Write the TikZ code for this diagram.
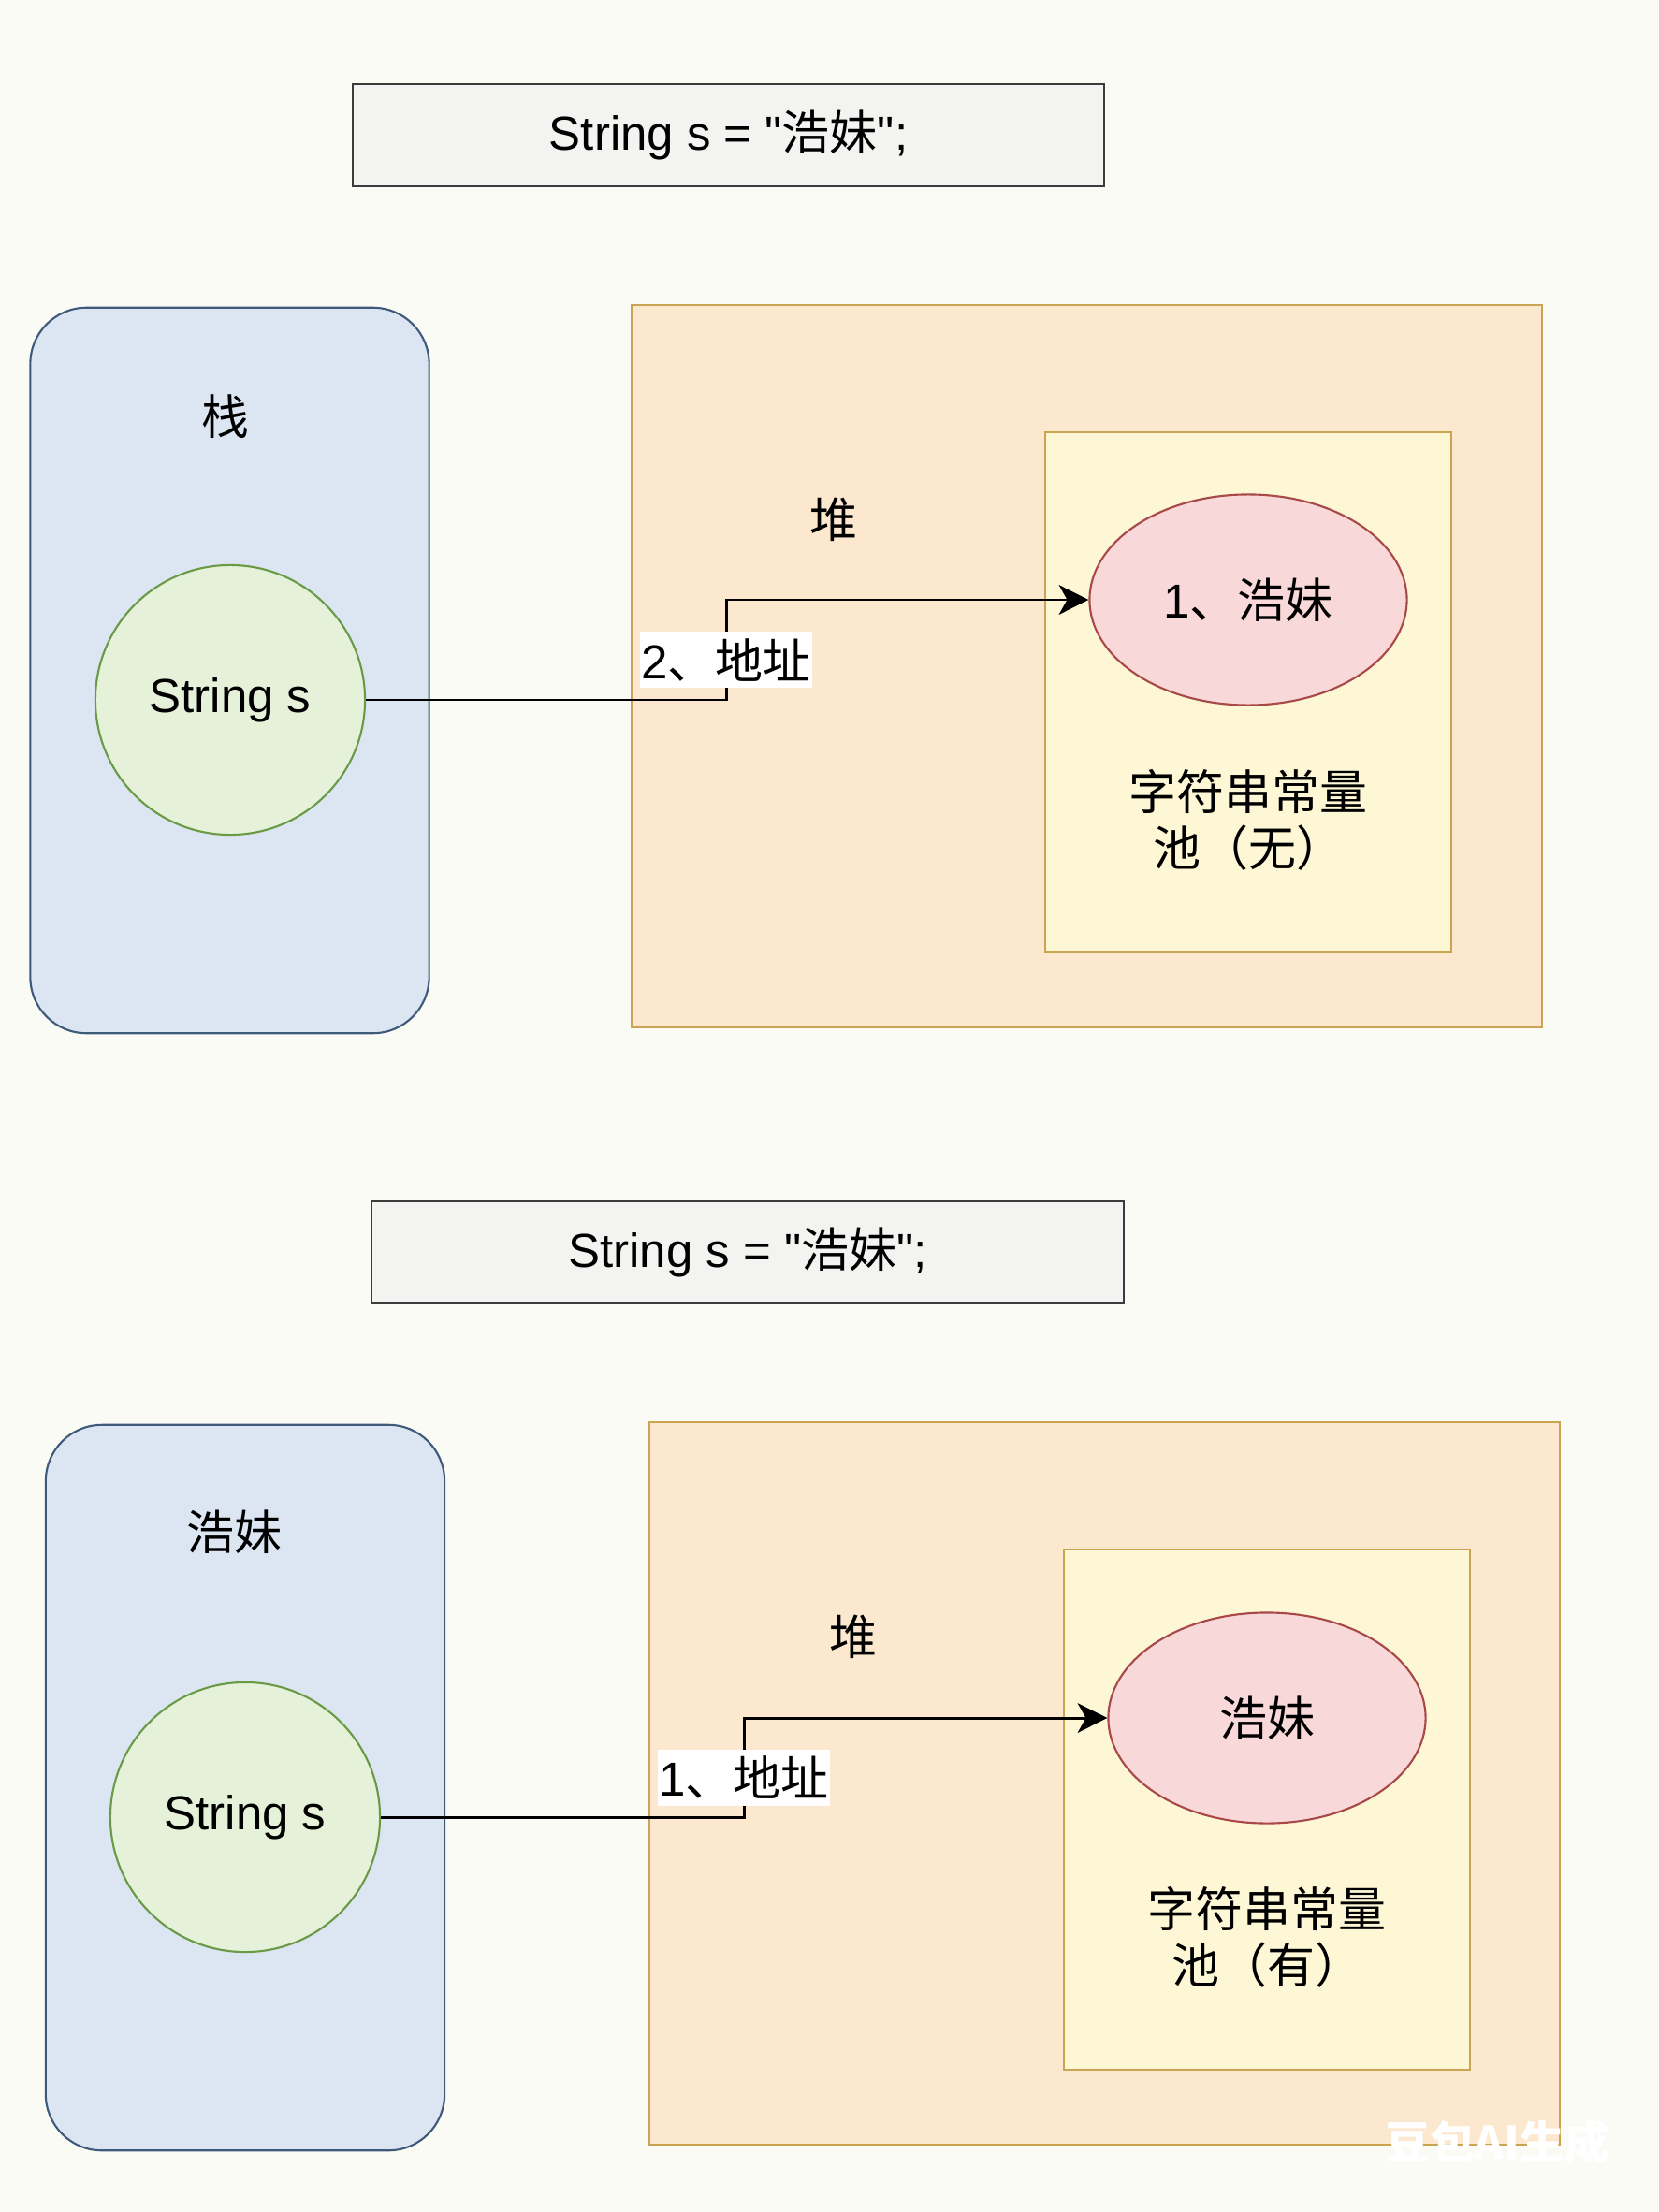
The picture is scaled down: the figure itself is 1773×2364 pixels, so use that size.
\documentclass[tikz,border=0pt]{standalone}
\usepackage{fontspec}
\setmainfont{Liberation Sans}[Ligatures=TeXOff]
\newfontfamily\cjk{Noto Sans CJK SC}
\usepackage{xcolor}
\usepackage{tikz}
\usetikzlibrary{shapes.geometric,arrows.meta,positioning,calc}
\definecolor{bgcolor}{HTML}{FBFBF6}
\definecolor{codefill}{HTML}{F3F3F1}
\definecolor{codedraw}{HTML}{3C3C3C}
\definecolor{stackfill}{HTML}{DCE6F3}
\definecolor{stackdraw}{HTML}{3E5A7A}
\definecolor{varfill}{HTML}{E5F2D9}
\definecolor{vardraw}{HTML}{6A9A45}
\definecolor{heapfill}{HTML}{FCE8CF}
\definecolor{heapdraw}{HTML}{C9A552}
\definecolor{poolfill}{HTML}{FDF7D6}
\definecolor{strfill}{HTML}{F8D8D8}
\definecolor{strdraw}{HTML}{A84848}
\newcommand{\diagfont}{\fontsize{14.5}{17}\selectfont}
\tikzset{
    codebox/.style={
        rectangle,
        draw=codedraw,
        fill=codefill,
        line width=0.6pt,
        minimum width=8.03cm,
        minimum height=1.09cm
    },
    stackbox/.style={
        rectangle,
        rounded corners=0.6cm,
        draw=stackdraw,
        fill=stackfill,
        line width=0.6pt,
        minimum width=4.26cm,
        minimum height=7.75cm
    },
    varnode/.style={
        circle,
        draw=vardraw,
        fill=varfill,
        line width=0.6pt,
        minimum size=2.88cm,
        inner sep=0pt
    },
    heapbox/.style={
        rectangle,
        draw=heapdraw,
        fill=heapfill,
        line width=0.6pt,
        minimum width=9.72cm,
        minimum height=7.72cm
    },
    poolbox/.style={
        rectangle,
        draw=heapdraw,
        fill=poolfill,
        line width=0.6pt,
        minimum width=4.33cm,
        minimum height=5.55cm
    },
    strnode/.style={
        ellipse,
        draw=strdraw,
        fill=strfill,
        line width=0.6pt,
        minimum width=3.39cm,
        minimum height=2.25cm,
        inner sep=0pt
    },
    pointer/.style={
        -{Stealth[length=9pt,width=9pt,inset=2.5pt]},
        line width=0.85pt,
        black
    },
    addrlabel/.style={
        fill=white,
        inner xsep=0.5pt,
        inner ysep=2pt,
        pos=0.4
    }
}

\begin{document}
\begin{tikzpicture}[x=0.01cm, y=-0.01cm, font=\diagfont]
\fill[bgcolor] (0,0) rectangle (1773,2364);
\useasboundingbox (0,0) rectangle (1773,2364);

% ---------- before: pool empty ----------
\node[codebox] (code1) at (778.5,144.5) {String s = "{\cjk 浩妹}";};

% Stack
\node[stackbox] (stack1) at (245.5,716.5) {};
\node (stacklbl1) at (241,445) {\cjk 栈};
\node[varnode] (var1) at (246,748) {String s};

% Heap
\node[heapbox] (heap1) at (1161.5,712) {};
\node (heaplbl1) at (891,555) {\cjk 堆};
\node[poolbox] (pool1) at (1334,739.5) {};
\node[strnode] (str1) at (1334,641) {1{\cjk 、浩妹}};
\node[align=center] (poollbl1) at (1334,876) {\cjk 字符串常量\\\cjk 池（无）};

\coordinate (bend1) at (776,700);
\draw[pointer] (var1.east) -- (var1.east -| bend1)
    -- node[addrlabel] {2{\cjk 、地址}} (str1.west -| bend1) -- (str1.west);

% ---------- after: pool holds the string ----------
\node[codebox] (code2) at (799,1338) {String s = "{\cjk 浩妹}";};

% Stack
\node[stackbox] (stack2) at (262,1910.5) {};
\node (stacklbl2) at (250,1637) {\cjk 浩妹};
\node[varnode] (var2) at (262,1942) {String s};

% Heap
\node[heapbox] (heap2) at (1180.5,1906) {};
\node (heaplbl2) at (912,1749) {\cjk 堆};
\node[poolbox] (pool2) at (1354,1934) {};
\node[strnode] (str2) at (1354,1836) {\cjk 浩妹};
\node[align=center] (poollbl2) at (1354,2070) {\cjk 字符串常量\\\cjk 池（有）};

\coordinate (bend2) at (795,1890);
\draw[pointer] (var2.east) -- (var2.east -| bend2)
    -- node[addrlabel] {1{\cjk 、地址}} (str2.west -| bend2) -- (str2.west);

% watermark
\node[text=white, font=\fontsize{13.6}{16}\selectfont\cjk\bfseries] (mark) at (1600,2289) {豆包AI生成};
\end{tikzpicture}
\end{document}
